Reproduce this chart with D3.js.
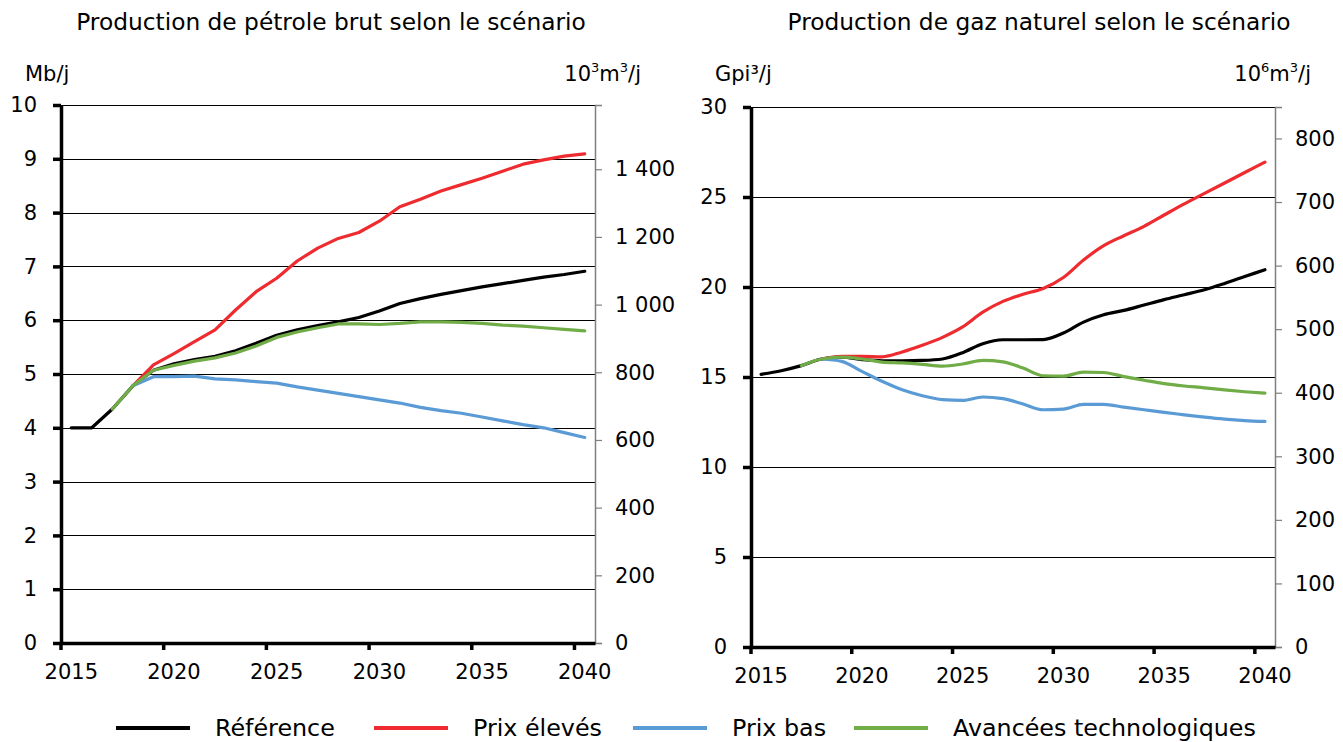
<!DOCTYPE html>
<html>
<head>
<meta charset="utf-8">
<script src="https://cdn.jsdelivr.net/npm/d3@7/dist/d3.min.js"></script>
<style>
  html, body { margin: 0; padding: 0; background: #fff; }
  svg { display: block; font-family: "DejaVu Sans", sans-serif; }
</style>
</head>
<body>
<svg id="chart" width="1343" height="742"></svg>
<script>
// Years shown on both panels
const years = d3.range(2015, 2041);
const yearTicks = [2015, 2020, 2025, 2030, 2035, 2040];

// Scenario names (legend order)
const scenarios = ["Référence", "Prix élevés", "Prix bas", "Avancées technologiques"];
const scenarioColors = ["#000000", "#EE2B2F", "#5B9BD5", "#70AD47"];

// Crude oil production, Mb/j
const oilReference = [4.0, 4.0, 4.35, 4.78, 5.07, 5.19, 5.27, 5.33, 5.43, 5.57, 5.72, 5.82, 5.9, 5.97, 6.05, 6.17, 6.31, 6.4, 6.48, 6.55, 6.62, 6.68, 6.74, 6.8, 6.85, 6.91];
const oilHighPrice = [null, null, null, 4.78, 5.17, 5.38, 5.6, 5.82, 6.19, 6.53, 6.78, 7.1, 7.34, 7.52, 7.63, 7.84, 8.11, 8.25, 8.4, 8.52, 8.64, 8.77, 8.9, 8.98, 9.05, 9.09];
const oilLowPrice = [null, null, null, 4.78, 4.95, 4.95, 4.96, 4.91, 4.89, 4.86, 4.83, 4.76, 4.7, 4.64, 4.58, 4.52, 4.46, 4.38, 4.32, 4.27, 4.2, 4.13, 4.06, 4.0, 3.91, 3.82];
const oilTech = [null, null, 4.35, 4.78, 5.07, 5.16, 5.24, 5.3, 5.39, 5.52, 5.68, 5.78, 5.86, 5.93, 5.93, 5.92, 5.94, 5.97, 5.97, 5.96, 5.94, 5.91, 5.89, 5.86, 5.83, 5.8];

// Natural gas production, Gpi³/j
const gasReference = [15.15, 15.35, 15.63, 16.0, 16.1, 15.97, 15.9, 15.9, 15.92, 16.0, 16.35, 16.85, 17.07, 17.07, 17.08, 17.44, 18.05, 18.46, 18.7, 19.0, 19.3, 19.57, 19.85, 20.2, 20.58, 20.96];
const gasHighPrice = [null, null, null, 16.0, 16.15, 16.15, 16.12, 16.39, 16.76, 17.2, 17.78, 18.6, 19.2, 19.6, 19.92, 20.53, 21.5, 22.3, 22.85, 23.37, 24.0, 24.62, 25.2, 25.78, 26.36, 26.94];
const gasLowPrice = [null, null, null, 16.0, 15.87, 15.31, 14.76, 14.29, 13.96, 13.74, 13.7, 13.89, 13.8, 13.5, 13.18, 13.22, 13.48, 13.48, 13.33, 13.18, 13.03, 12.9, 12.77, 12.66, 12.58, 12.53];
const gasTech = [null, null, 15.63, 16.0, 16.1, 16.0, 15.83, 15.78, 15.7, 15.6, 15.72, 15.92, 15.84, 15.5, 15.07, 15.05, 15.27, 15.25, 15.02, 14.82, 14.63, 14.5, 14.4, 14.28, 14.18, 14.1];

// Axis ticks
const oilTicks = [0, 1, 2, 3, 4, 5, 6, 7, 8, 9, 10];
const oilMetricTicks = [0, 200, 400, 600, 800, 1000, 1200, 1400];
const gasTicks = [0, 5, 10, 15, 20, 25, 30];
const gasMetricTicks = [0, 100, 200, 300, 400, 500, 600, 700, 800];

// Unit conversions for the secondary axes
const M3_PER_BARREL = 0.158987;   // 1 Mb/j -> 158.987 10³m³/j
const M3_PER_CUBIC_FOOT = 0.0283168; // 1 Gpi³/j -> 28.3168 10⁶m³/j

const svg = d3.select("#chart");
const fmtSpace = v => d3.format(",")(v).replace(/,/g, " ");

function drawPanel(opt) {
  const g = svg.append("g");
  const x = d3.scaleBand().domain(years).range([opt.left, opt.right]).paddingInner(0).paddingOuter(0);
  const y = d3.scaleLinear().domain([0, opt.yMax]).range([opt.bottom, opt.top]);
  const y2 = d3.scaleLinear().domain([0, opt.yMax * opt.factor]).range([opt.bottom, opt.top]);
  const cx = yr => x(yr) + x.bandwidth() / 2;

  // Title
  g.append("text").attr("x", opt.titleX).attr("y", 30)
    .attr("text-anchor", "middle").attr("font-size", 23.3).attr("fill", "#000")
    .text(opt.title);

  // Horizontal gridlines
  g.append("g").selectAll("line").data(opt.yTicks.filter(d => d > 0)).join("line")
    .attr("x1", opt.left).attr("x2", opt.right)
    .attr("y1", d => Math.round(y(d)) + 0.5).attr("y2", d => Math.round(y(d)) + 0.5)
    .attr("stroke", "#000").attr("stroke-width", 1.2);

  // Secondary (metric) axis on the right
  const axR = g.append("g").attr("transform", `translate(${opt.right},0)`)
    .call(d3.axisRight(y2).tickValues(opt.y2Ticks).tickSize(7).tickPadding(13).tickFormat(fmtSpace));
  axR.select(".domain").attr("stroke", "#7f7f7f").attr("stroke-width", 1.5);
  axR.selectAll(".tick line").attr("stroke", "#7f7f7f").attr("stroke-width", 1.2);
  axR.selectAll(".tick text").attr("font-size", 21).attr("fill", "#000").attr("font-family", "DejaVu Sans");

  // Primary axis on the left
  const axL = g.append("g").attr("transform", `translate(${opt.left},0)`)
    .call(d3.axisLeft(y).tickValues(opt.yTicks).tickSize(8).tickPadding(16).tickSizeOuter(0));
  axL.select(".domain").attr("stroke", "#000").attr("stroke-width", 3.5);
  axL.selectAll(".tick line").attr("stroke", "#000").attr("stroke-width", 3.5);
  axL.selectAll(".tick text").attr("font-size", 21).attr("fill", "#000").attr("font-family", "DejaVu Sans");

  // Year axis: tick marks on category boundaries, labels centred in the category
  const axB = g.append("g").attr("transform", `translate(0,${opt.bottom})`)
    .call(d3.axisBottom(x).tickValues(yearTicks).tickSize(7).tickPadding(14).tickSizeOuter(0));
  axB.select(".domain").attr("stroke", "#000").attr("stroke-width", 3.5);
  axB.selectAll(".tick line").attr("stroke", "#000").attr("stroke-width", 3.5)
    .attr("transform", `translate(${-x.bandwidth() / 2},0)`);
  axB.selectAll(".tick text").attr("font-size", 21).attr("fill", "#000").attr("font-family", "DejaVu Sans");

  // Unit labels
  g.append("text").attr("x", opt.unitLeftX).attr("y", 81).attr("font-size", 21).attr("fill", "#000")
    .text(opt.unitLeft);
  const ur = g.append("text").attr("x", opt.unitRightX).attr("y", 81).attr("font-size", 21)
    .attr("text-anchor", "end").attr("fill", "#000");
  ur.append("tspan").text("10");
  ur.append("tspan").attr("font-size", 13).attr("dy", -9).text(opt.unitExp);
  ur.append("tspan").attr("dy", 9).text("m");
  ur.append("tspan").attr("font-size", 13).attr("dy", -9).text("3");
  ur.append("tspan").attr("dy", 9).text("/j");

  // Scenario lines
  const line = d3.line()
    .defined(d => d.v != null)
    .x(d => cx(d.year))
    .y(d => y(d.v))
    .curve(opt.curve);
  opt.series.forEach((vals, i) => {
    const pts = years.map((yr, k) => ({ year: yr, v: vals[k] }));
    g.append("path").datum(pts)
      .attr("d", line)
      .attr("fill", "none")
      .attr("stroke", scenarioColors[i])
      .attr("stroke-width", 3.2)
      .attr("stroke-linejoin", "round")
      .attr("stroke-linecap", "round");
  });
}

drawPanel({
  title: "Production de pétrole brut selon le scénario",
  titleX: 331,
  left: 61, right: 595, top: 105, bottom: 643,
  yMax: 10, factor: 1000 * M3_PER_BARREL,
  yTicks: oilTicks, y2Ticks: oilMetricTicks,
  unitLeft: "Mb/j", unitLeftX: 25,
  unitExp: "3", unitRightX: 641,
  curve: d3.curveLinear,
  series: [oilReference, oilHighPrice, oilLowPrice, oilTech]
});

drawPanel({
  title: "Production de gaz naturel selon le scénario",
  titleX: 1039,
  left: 751, right: 1275, top: 107, bottom: 647,
  yMax: 30, factor: 1000 * M3_PER_CUBIC_FOOT,
  yTicks: gasTicks, y2Ticks: gasMetricTicks,
  unitLeft: "Gpi³/j", unitLeftX: 715,
  unitExp: "6", unitRightX: 1311,
  curve: d3.curveMonotoneX,
  series: [gasReference, gasHighPrice, gasLowPrice, gasTech]
});

// Legend
const legendX = [116, 374, 633, 854];
const legend = svg.append("g");
scenarios.forEach((name, i) => {
  legend.append("line")
    .attr("x1", legendX[i]).attr("x2", legendX[i] + 74)
    .attr("y1", 728).attr("y2", 728)
    .attr("stroke", scenarioColors[i]).attr("stroke-width", 4);
  legend.append("text")
    .attr("x", legendX[i] + 99).attr("y", 736)
    .attr("font-size", 23.8).attr("fill", "#000")
    .text(name);
});
</script>
</body>
</html>
